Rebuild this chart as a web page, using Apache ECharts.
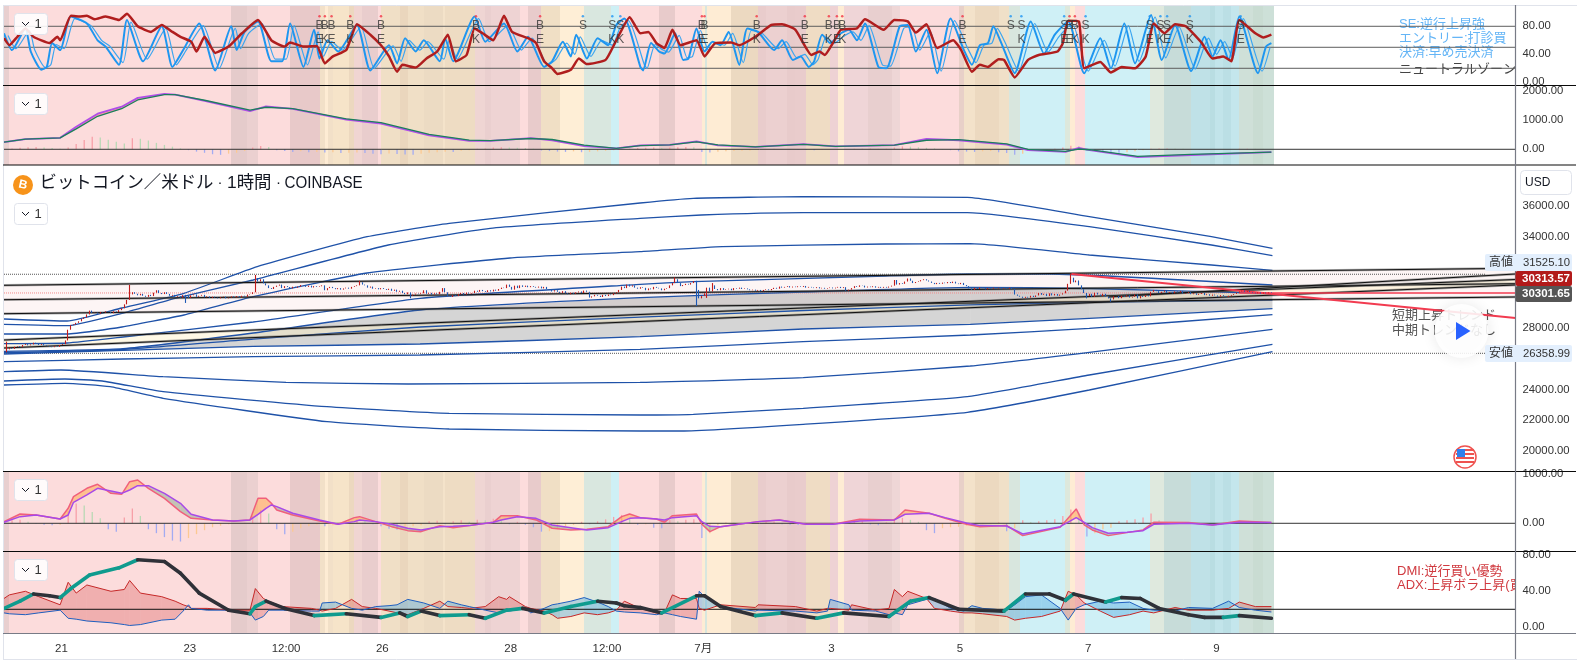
<!DOCTYPE html>
<html><head><meta charset="utf-8">
<style>html,body{margin:0;padding:0;background:#fff}#c{width:1577px;height:661px}</style>
<script src="https://cdn.jsdelivr.net/npm/echarts@6/dist/echarts.min.js"></script>
</head><body><div id="c"></div>
<script>
// ---------- time axis ----------
const timeTickHours=[21.5,69.5,105.5,141.5,189.5,225.5,261.5,309.5,357.5,405.5,453.5];
const timeTickLabels=['21','23','12:00','26','28','12:00','7月','3','5','7','9'];
const xMax=565.3;

// ---------- background state bands: [from hour, to hour, colour] ----------
const bands=[[0,2,'#e8cfcf'],[2,85,'#fcdcdc'],[85,91,'#e5cbcb'],[91,95,'#ebd0d0'],[95,107,'#fcdcdc'],[107,118,'#e8c9c9'],[118,120,'#f2e0c8'],[120,121,'#feecd4'],[121,123,'#f2e0c8'],[123,129,'#f6e4c9'],[129,131,'#ecd8bf'],[131,134,'#f0d5d2'],[134,140,'#e9cdcd'],[140,141,'#fcdcdc'],[141,148,'#f0dfc6'],[148,151,'#ead6bd'],[151,157,'#f0dfc6'],[157,164,'#ecdbc3'],[164,165,'#f4e3ca'],[165,176,'#eedcc3'],[176,180,'#efd5d3'],[180,182,'#eacfcf'],[182,193,'#eed3d3'],[193,196,'#fcdcdc'],[196,201,'#e8cbcb'],[201,208,'#f0dfc5'],[208,217,'#feeed6'],[217,227,'#d9e7df'],[227,230,'#cef0f5'],[230,245,'#fcdcdc'],[245,251,'#e8cbcb'],[251,261,'#fcdcdc'],[261,262,'#feecd4'],[262,263,'#d8e6de'],[263,272,'#feecd4'],[272,282,'#ecd9c1'],[282,285,'#e9cccc'],[285,293,'#ecd0d0'],[293,296,'#e8cbcb'],[296,300,'#e9cccc'],[300,309,'#efdcc4'],[309,312,'#eed2d4'],[312,314,'#feecd4'],[314,323,'#efd5d7'],[323,332,'#e8cfcf'],[332,335,'#eed6d6'],[335,357,'#fcdcdc'],[357,359,'#e8d0c8'],[359,363,'#f3e2ca'],[363,372,'#ecd9c0'],[372,376,'#f0e0c8'],[376,380,'#d8e6de'],[380,397,'#cff0f6'],[397,398.5,'#dde8dc'],[398.5,400.4,'#feecd4'],[400.4,404.4,'#fcdcdc'],[404.4,428.5,'#cff0f6'],[428.5,434,'#dfe9de'],[434,444,'#c7dcd9'],[444,451,'#bfe1e7'],[451,453,'#b9dde2'],[453,456,'#c2e4ea'],[456,459,'#bbdfe5'],[459,462,'#c4e6ec'],[462,467,'#cfe0d8'],[467,471,'#c9dcd2'],[471,475,'#cde0d8']];

// ---------- stochastic panel ----------
const stochFast=[[0,70],[3,46],[8,77],[10,44],[14,18],[16,22],[18,56],[21,46],[25,94],[31,84],[35,60],[38,51],[43,25],[46,89],[52,30],[59,80],[63,22],[67,46],[73,84],[79,17],[85,80],[87,46],[90,72],[95,87],[100,30],[104,30],[107,84],[112,22],[116,75],[118,34],[121,60],[125,44],[132,82],[137,17],[144,53],[147,27],[150,63],[154,44],[157,60],[163,30],[165,63],[168,30],[176,94],[180,58],[187,84],[192,44],[196,65],[202,22],[205,30],[209,58],[212,37],[214,68],[218,34],[222,63],[226,53],[229,82],[232,91],[238,22],[239,17],[242,56],[245,44],[247,41],[251,70],[254,32],[256,34],[259,77],[262,44],[265,58],[268,53],[271,72],[275,25],[278,77],[282,72],[288,46],[291,60],[295,32],[298,37],[301,22],[303,30],[306,68],[309,56],[313,70],[316,75],[319,60],[322,84],[327,22],[330,20],[335,80],[338,82],[341,44],[345,75],[349,13],[354,91],[359,46],[362,25],[365,53],[368,56],[370,80],[373,56],[378,13],[384,87],[389,41],[393,68],[398,87],[404,13],[410,63],[414,20],[419,84],[423,27],[429,96],[433,32],[438,82],[444,16],[449,65],[452,37],[455,60],[458,32],[462,94],[469,13],[472,51],[474,56]];
const stochFastLag=[[1.5,67],[4.5,48],[9.5,74],[11.5,46],[15.5,21],[17.5,25],[19.5,54],[22.5,48],[26.5,91],[32.5,81],[36.5,60],[39.5,52],[44.5,28],[47.5,86],[53.5,33],[60.5,77],[64.5,25],[68.5,48],[74.5,81],[80.5,20],[86.5,77],[88.5,48],[91.5,70],[96.5,84],[101.5,33],[105.5,33],[108.5,81],[113.5,25],[117.5,72],[119.5,37],[122.5,58],[126.5,46],[133.5,79],[138.5,20],[145.5,52],[148.5,30],[151.5,60],[155.5,46],[158.5,58],[164.5,33],[166.5,60],[169.5,33],[177.5,91],[181.5,58],[188.5,81],[193.5,46],[197.5,63],[203.5,25],[206.5,33],[210.5,56],[213.5,40],[215.5,65],[219.5,37],[223.5,60],[227.5,53],[230.5,79],[233.5,88],[239.5,25],[240.5,20],[243.5,54],[246.5,46],[248.5,43],[252.5,67],[255.5,35],[257.5,37],[260.5,74],[263.5,46],[266.5,56],[269.5,53],[272.5,70],[276.5,28],[279.5,74],[283.5,70],[289.5,48],[292.5,58],[296.5,35],[299.5,40],[302.5,25],[304.5,33],[307.5,65],[310.5,56],[314.5,67],[317.5,72],[320.5,60],[323.5,81],[328.5,25],[331.5,23],[336.5,77],[339.5,79],[342.5,46],[346.5,72],[350.5,16],[355.5,88],[360.5,48],[363.5,28],[366.5,53],[369.5,56],[371.5,77],[374.5,56],[379.5,16],[385.5,84],[390.5,43],[394.5,65],[399.5,84],[405.5,16],[411.5,60],[415.5,23],[420.5,81],[424.5,30],[430.5,93],[434.5,35],[439.5,79],[445.5,19],[450.5,63],[453.5,40],[456.5,58],[459.5,35],[463.5,91],[470.5,16],[473.5,50]];
const stochSlow=[[0,63],[2,53],[5,65],[8,77],[11,65],[17,56],[20,65],[21,60],[25,95],[28,94],[31,95],[34,90],[38,94],[43,89],[46,98],[50,80],[55,72],[59,82],[63,72],[66,65],[70,58],[72,44],[75,65],[79,42],[84,51],[89,70],[95,89],[100,60],[105,51],[107,57],[112,51],[117,52],[120,27],[123,37],[128,46],[132,83],[137,68],[141,53],[144,37],[147,15],[149,25],[154,21],[158,34],[162,44],[166,68],[169,30],[173,39],[176,77],[179,70],[183,60],[187,95],[190,72],[196,63],[199,56],[202,30],[205,20],[207,12],[212,18],[215,34],[218,26],[225,32],[229,60],[234,93],[238,70],[241,72],[244,56],[247,49],[250,75],[253,53],[259,60],[262,37],[266,56],[272,57],[275,53],[281,65],[287,82],[291,83],[296,75],[302,39],[305,44],[307,39],[310,56],[313,75],[319,77],[322,90],[329,75],[333,89],[338,87],[341,71],[345,83],[349,49],[355,60],[358,46],[362,15],[365,25],[368,22],[372,33],[374,32],[378,7],[383,32],[387,39],[394,44],[396,56],[398,88],[402,87],[404,20],[410,29],[414,14],[418,22],[423,20],[427,37],[430,84],[434,70],[438,83],[442,80],[448,56],[452,34],[456,37],[459,30],[462,89],[468,70],[471,64],[474,68]];
const buyHours=[118,120,122.5,129.5,141,176.5,200.5,261,262,281.5,299.5,308.5,311.5,313.5,358.5,398.5,400.5];
const buyKinds=['E','K','E','K','E','K','E','E','E','K','E','K','E','K','E','E','K'];
const sellHours=[216.5,227.5,230.5,376.5,380.5,396.5,404.5,428.5,432.5,435,443.5,462.5];
const sellKinds=['','K','K','','K','E','K','E','K','E','K','E'];

// ---------- long MACD panel ----------
const macdLongHours=[0,8,21,27,35,44,50,60,64,75,92,98,108,128,141,159,174,182,197,205,217,229,238,249,259,267,281,299,311,333,345,357,375,383,397,402,406,424,444,474];
const macdLongUpper=[245,348,393,770,1220,1460,1760,1900,1870,1660,1310,1470,1385,1020,880,480,290,290,380,310,105,28,131,154,268,135,86,177,97,143,360,310,160,-30,-90,50,-30,-270,-200,-97];
const macdLongLower=[245,348,393,700,1130,1390,1690,1870,1870,1680,1340,1440,1395,1045,910,510,315,300,370,335,140,28,125,154,255,150,86,170,97,143,310,330,185,0,-70,10,-15,-240,-177,-97];
const macdLongHist=[10,30,50,70,80,60,40,20,60,180,320,430,400,330,260,200,380,360,300,220,150,90,30,-30,-80,-120,-170,-190,-150,-120,-60,60,110,80,-30,-60,-90,-70,-100,-90,-110,-100,-130,-120,-110,-130,-150,-170,-140,-160,-180,-190,-150,-120,-100,-80,-90,-50,-30,20,30,60,70,60,50,40,20,-40,-60,-80,-90,-70,-100,-90,-70,-50,-30,-10,20,40,50,60,40,60,70,80,70,-90,-110,-80,-70,-60,-50,-40,-10,10,15,10,-10,-15,-25,-35,-20,-10,-5,10,15,20,25,15,20,60,100,90,70,50,30,10,-30,-70,-80,-90,-70,-60,-100,-130,-190,-150,-60,-30,-10,20,60,120,110,-40,-70,-90,-110,-120,-100,-70,-30,20,25,30,25,20,10,-5,-5,-8,-5,5,15,20,18,15];

// ---------- price panel ----------
const closes=[26500,26620,26700,26650,26790,26830,26780,26900,26960,26880,
26940,27050,26980,26900,26960,26880,26830,26790,26760,26820,
26780,26900,26960,27200,27900,28200,28250,28350,28450,28600,
28700,28900,29150,29000,29020,28950,29050,29020,29100,29050,
28980,29100,29060,29180,29300,29560,29850,30210,30350,30250,
30150,30240,30120,30050,30180,30100,30320,30480,30300,30230,
30350,30240,30120,30180,30050,30100,30000,30160,30120,29980,
30150,30210,30050,30120,30180,30020,30080,29980,30060,30000,
29950,30030,30060,29950,30000,30080,30020,30100,30020,30120,
30060,30200,30230,30350,31280,31050,31200,30930,30800,30620,
30560,30700,30780,30850,30620,30750,30690,30600,30710,30640,
30720,30820,30800,30700,30780,30660,30750,30700,30740,30800,
30480,30620,30700,30620,30550,30620,30520,30600,30650,30580,
30700,30750,30800,31000,30850,30800,30650,30720,30580,30620,
30540,30620,30560,30500,30580,30440,30520,30380,30450,30300,
30220,30340,30120,30200,30260,30230,30280,30480,30250,30310,
30200,30280,30220,30380,30620,30350,30100,30040,30160,30100,
30220,30300,30200,30330,30260,30300,30450,30380,30500,30420,
30360,30480,30400,30520,30450,30560,30650,30620,30850,30700,
30520,30780,30620,30800,30700,30780,30680,30750,30700,30650,
30720,30600,30700,30560,30520,30400,30480,30380,30300,30420,
30280,30220,30320,30250,30340,30400,30300,30460,30380,30000,
30080,30180,30120,30040,30180,30100,30200,30160,30280,30350,
30500,30720,30620,30850,30720,30800,30650,30580,30680,30640,
30480,30600,30540,30700,30640,30600,30480,30580,30620,30800,
30950,31200,30950,30750,30820,30900,30850,30950,31080,30500,
29950,30100,30280,30650,30400,30800,30560,30480,30620,30500,
30540,30580,30480,30620,30580,30650,30560,30600,30540,30480,
30520,30450,30500,30420,30500,30540,30480,30560,30640,30580,
30720,30650,30700,30750,30660,30720,30680,30740,30700,30760,
30650,30700,30660,30620,30680,30600,30640,30580,30620,30660,
30600,30650,30700,30620,30680,30450,30520,30620,30750,30700,
30800,30780,30660,30720,30680,30740,30650,30700,30640,30700,
30650,30720,30780,31150,30850,30950,30900,31050,31250,31100,
30950,31020,31060,31140,31200,31120,31050,30960,30880,30960,
30900,30980,30940,31020,30950,31040,30920,30880,30960,30820,
30750,30600,30500,30640,30560,30660,30620,30540,30620,30580,
30650,30600,30640,30580,30620,30580,30640,30560,30200,30120,
30060,29980,30050,30000,30120,30040,30140,30300,30180,30250,
30100,30280,30140,30240,30120,30200,30280,30450,30900,31300,
31000,31120,30800,30550,30300,30100,30250,30050,30320,30200,
30100,30250,30060,29950,29880,30080,30100,29960,30120,30060,
30150,30000,30050,30200,29950,30100,30040,30160,30080,30380,
30500,30420,30300,30380,30460,30300,30360,30280,30400,30340,
30440,30260,30300,30360,30220,30280,30180,30240,30300,30160,
30220,30120,30200,30140,30060,30160,30100,30040,30120,30180,
30240,30320,30400,30460,30380,30440,30360,30320,30280,30340,
30260,30330,30280,30340,30301.65];
// long wicks: hour -> [low, high]
const wicks={1:[26430,27120],47:[29850,30830],68:[29650,30180],94:[30350,31480],133:[30800,31100],152:[29960,30340],251:[30950,31320],259:[29450,31100],263:[29980,30650],265:[30400,30950],399:[30900,31560],405:[29950,30300],414:[29730,29950]};

const envHours3=[0,23.6,44.1,67.3,94.7,135.8,166.5,237.9,257.8,298.9,360.3,405.9,451.6,474.4];
const envUpper5=[28601,28470,29320,30281,32019,33980,34856,36183,36490,36594,36555,35287,33980,33222];
const envUpper4Hours=[0,23.6,44.1,64,93.2,143.7,181.8,237.9,260.8,298.9,360.3,405.9,451.6,474.4];
const envUpper4=[28254,28163,28973,29954,31150,33437,34529,35183,35398,35549,35549,34633,33437,32738];
const envUpper3Hours=[0,23.6,44.1,67.3,93.2,135.8,189.3,237.9,268.6,329.6,361.4,405.9,451.6,474.4];
const envUpper3=[27620,27620,28078,28862,30058,31607,32588,33000,33326,33503,33522,32784,32130,31784];
const envUpper2Hours=[0,23.6,44.5,93.2,155.6,237.9,257.8,329.6,360.3,390.6,474.4];
const envUpper2=[26986,27032,27424,28405,29954,30869,31039,31411,31542,31542,30823];
const envInnerHours=[0,44.5,93.2,155.6,237.9,298.9,361.4,405.9,474.4];
const envUpper1=[26483,26660,27686,29189,29993,30366,30673,30594,30254];
const envCenter=[26398,26607,27281,28078,28718,29156,29529,29690,29843];
const envLower1=[26313,26555,26810,26967,27444,27947,28254,28647,29274];
const envLower2=[25810,25986,26137,26248,26620,27117,27555,27993,28882];
const envLower3Hours=[0,21.3,59.5,105.5,151.1,237.9,298.9,361.4,405.9,474.4];
const envLower3=[25156,25267,24830,24464,24352,24464,24764,25529,26424,27928];
const envLower4Hours=[0,22.8,36.7,59.5,120.8,166.5,237.9,257.8,298.9,360.3,405.9,474.4];
const envLower4=[24549,24679,24549,23849,22869,22437,22326,22372,22764,23522,24941,26947];
const envLower5Hours=[0,22.8,39.7,59.5,120.8,166.5,237.9,253.3,298.9,360.3,405.9,474.4];
const envLower5=[24287,24398,24176,23418,21888,21411,21281,21281,21718,22503,23960,26464];

const channelHours=[0,565.3];
const channel1=[30803,31915];
const channel2=[29862,30908];
const channel3=[28947,30039];
const channel4=[27228,31183];
const channel5=[26705,30823];
const shortTrendHours=[413,565.3];
const shortTrend=[30039,31542];
const redTrendHours=[399.2,565.3];
const redTrend=[31542,28666];
const highPrice=31525.10,lowPrice=26358.99,closePrice=30301.65;

// ---------- short MACD panel ----------
const macdHours=[0,6,12,21,24,26,31,35,40,44,47,50,54,60,66,70,78,86,92,95,98,100,102,108,118,125,131,133,139,145,151,156,163,168,174,183,186,192,199,205,212,218,226,231,234,238,244,247,250,259,261,264,268,282,290,300,310,320,333,337,346,352,360,365,375,381,395,401,404,407,413,420,426,430,443,452,462,474];
const macdFast=[34,189,169,88,304,541,710,791,608,588,845,879,710,507,237,101,68,47,68,507,507,406,270,169,47,-20,115,135,34,-68,-149,-169,-47,-88,-47,20,155,155,68,-101,-135,-122,-68,135,189,115,88,20,155,189,-20,-169,-68,34,68,-20,-20,81,68,270,203,101,-20,-68,-47,-250,-81,291,-34,-135,-250,-189,-135,20,14,-34,47,14];
const macdSlow=[20,135,169,88,169,426,575,710,656,608,676,764,764,608,406,183,68,47,68,183,304,372,338,203,68,-20,34,68,34,-20,-101,-135,-68,-61,-47,20,68,135,101,-34,-88,-135,-88,34,101,115,88,68,115,155,34,-61,-68,34,68,-20,-20,47,68,183,203,115,7,-47,-54,-216,-68,115,20,-88,-203,-183,-149,-20,0,-34,20,14];
const macdHist=[20,60,70,30,-10,-30,-40,-30,250,400,360,230,100,-120,-170,120,300,150,-120,-200,-280,-350,-370,-300,-220,-140,-80,-50,-20,-10,10,150,270,200,-120,-220,-170,-100,-60,-30,-60,-40,-20,40,90,60,-20,-60,-110,-130,-100,-60,-40,40,50,-20,40,60,30,70,60,90,60,-20,30,-30,-80,-170,-160,-120,-60,-30,30,-20,40,80,130,170,100,-30,-20,-90,-100,60,40,70,80,-300,-200,-40,15,10,10,15,20,30,30,-20,-30,-35,-25,-20,-5,5,-15,20,40,50,-25,-40,20,100,110,70,30,-140,-200,-100,-80,-70,-50,-40,-20,-15,20,-160,-100,60,20,40,60,80,150,280,200,-270,-200,-120,-90,40,60,80,120,200,60,20,15,10,-10,-15,-10,-5,-5,15,20,10,5,5];

// ---------- DMI panel ----------
const dmiHours=[0,2,8,13,21,24,27,31,40,45,47,51,59,64,67,69,70,76,84,92,94,97,99,104,115,118,119,124,130,134,139,144,147,151,157,163,166,171,174,180,185,188,189,195,197,202,205,207,212,217,222,226,229,232,238,244,247,250,253,259,260,262,268,281,282,296,304,308,309,316,317,326,331,333,336,338,345,348,354,359,362,366,375,378,382,388,395,398,401,404,410,415,421,426,430,438,443,452,458,462,468,474];
const diPlus=[32,36,40,34,25,50,38,47,40,42,52,38,34,29,25,23,21,21,19,19,43,32,29,23,21,19,18,21,31,23,21,18,16,14,21,29,23,22,21,23,34,31,34,23,21,18,14,10,12,16,14,16,19,29,21,16,16,36,32,32,21,19,25,22,25,23,18,21,21,19,25,19,21,42,34,40,32,21,18,16,16,15,12,8,10,12,18,40,36,27,18,11,14,18,16,22,19,19,21,28,23,23];
const diMinus=[16,15,14,16,19,10,9,7,5,3,2,3,8,9,18,25,21,19,19,16,8,12,19,19,18,18,27,28,21,19,23,24,25,31,27,21,29,25,23,19,16,18,18,21,16,21,25,26,29,33,28,23,18,17,16,14,16,14,12,9,40,34,23,18,19,18,16,18,31,25,19,18,14,16,14,25,31,32,21,18,24,21,19,25,34,36,21,8,21,25,29,27,28,21,19,18,22,21,29,22,19,17];
const adx=[[0,21],[6,29],[11,37],[17,35],[21,33],[25,43],[32,58],[43,66],[50,75],[60,73],[66,60],[73,38],[84,19],[92,15],[94,23],[98,29],[105,21],[116,13],[128,15],[141,11],[148,16],[151,12],[156,18],[163,13],[174,14],[180,10],[188,19],[194,21],[202,16],[212,23],[222,29],[229,27],[232,24],[238,22],[246,16],[259,35],[262,35],[268,23],[281,13],[291,16],[304,10],[314,16],[331,12],[339,29],[346,33],[357,20],[374,18],[382,37],[391,37],[397,30],[400,37],[412,28],[418,33],[425,32],[432,21],[443,14],[449,11],[456,11],[462,13],[474,10]];

// ---------- axis ticks ----------
const ticksStoch=[0,40,80];
const ticksMacdLong=[0,1000,2000];
const ticksPrice=[20000,22000,24000,28000,34000,36000];
const ticksMacd=[0,1000];
const ticksDmi=[0,40,80];

// ---------- helpers ----------
const FONT='"Liberation Sans","Noto Sans CJK JP",sans-serif';
const zip=(xs,ys)=>xs.map((x,i)=>[x,ys[i]]);
const grids=[{top:5.5,bottom:85.5},{top:85.5,bottom:165},{top:165,bottom:471.3},{top:471.3,bottom:551.3},{top:551.3,bottom:633.3}];
const series=[];
function line(g,data,color,width,opt){series.push(Object.assign({type:'line',xAxisIndex:g,yAxisIndex:g,data,symbol:'none',silent:true,z:3,
  lineStyle:{color,width,type:(opt&&opt.dash)||'solid',opacity:(opt&&opt.opacity)||1}},opt&&opt.smooth?{smooth:opt.smooth}:{}));}
function hline(g,v,color,width,dash,h0,h1){line(g,[[h0===undefined?0:h0,v],[h1===undefined?xMax:h1,v]],color,width,{dash});}
function fillBetween(g,hs,a,b,colorA,colorB,z){
  const rows=hs.map((h,i)=>[h,a[i],b[i]]);
  series.push({type:'custom',xAxisIndex:g,yAxisIndex:g,silent:true,z:z===undefined?1:z,clip:true,encode:{x:0,y:[1,2]},data:rows,
    renderItem(p,api){
      const i=p.dataIndex; if(i>=rows.length-1) return null;
      const [h0,a0,b0]=rows[i],[h1,a1,b1]=rows[i+1];
      const poly=(pts,c)=>({type:'polygon',shape:{points:pts.map(q=>api.coord(q))},style:{fill:c},silent:true});
      const d0=a0-b0,d1=a1-b1;
      if(d0*d1<0){const t=d0/(d0-d1),hm=h0+t*(h1-h0),vm=a0+t*(a1-a0);
        return {type:'group',children:[poly([[h0,a0],[hm,vm],[h0,b0]],d0>0?colorA:colorB),poly([[hm,vm],[h1,a1],[h1,b1]],d1>0?colorA:colorB)]};}
      return poly([[h0,a0],[h1,a1],[h1,b1],[h0,b0]],(d0+d1)>=0?colorA:colorB);
    }});
}
function bgBands(g){
  series.push({type:'custom',xAxisIndex:g,yAxisIndex:g,silent:true,z:0,clip:true,encode:{x:[0,1]},data:bands,
    renderItem(p,api){
      const b=bands[p.dataIndex],x0=Math.round(api.coord([b[0],0])[0]),x1=Math.round(api.coord([b[1],0])[0]),cs=p.coordSys;
      return {type:'rect',shape:{x:x0,y:cs.y,width:x1-x0,height:cs.height},style:{fill:b[2]},silent:true};
    }});
}
function hist(g,vals){
  series.push({type:'bar',xAxisIndex:g,yAxisIndex:g,silent:true,z:1,barWidth:1.3,data:vals.map((v,i)=>[i*3,v]),
    itemStyle:{color(p){const v=p.value[1],prev=p.dataIndex?vals[p.dataIndex-1]:0;
      return v>=0?(v>=prev?'#f7a0a8':'#b9d9b5'):(v<prev?'#a3abf2':'#fcc992');}}});
}
// bands
[0,1,3,4].forEach(bgBands);

// panel 0
[80,50,20].forEach(v=>hline(0,v,'#5d5d5d',1));
line(0,stochFastLag,'#3aa5f0',1.2,{smooth:.2});
line(0,stochFast,'#1e96f0',2,{smooth:.2});
line(0,stochSlow,'#b01e1e',2.5,{smooth:.15});
series.push({type:'scatter',xAxisIndex:0,yAxisIndex:0,silent:true,z:4,symbolSize:2.5,itemStyle:{color:'#f23645'},data:buyHours.map(h=>[h,94.5])});
series.push({type:'scatter',xAxisIndex:0,yAxisIndex:0,silent:true,z:4,symbolSize:2.5,itemStyle:{color:'#2196f3'},data:sellHours.map(h=>[h,94.5])});
const letterStyle=t=>({show:true,position:'inside',formatter:t,fontSize:12,fontFamily:FONT,color:'#333'});
const letters=[];
buyHours.forEach((h,i)=>{letters.push({value:[h,81],label:letterStyle('B')});letters.push({value:[h,61.5],label:letterStyle(buyKinds[i])});});
sellHours.forEach((h,i)=>{letters.push({value:[h,81],label:letterStyle('S')}); if(sellKinds[i]) letters.push({value:[h,61.5],label:letterStyle(sellKinds[i])});});
series.push({type:'scatter',xAxisIndex:0,yAxisIndex:0,silent:true,z:5,symbolSize:1,itemStyle:{color:'rgba(0,0,0,0)'},data:letters});

// panel 1
hline(1,0,'#333',1);
hist(1,macdLongHist);
fillBetween(1,macdLongHours,macdLongUpper,macdLongLower,'rgba(255,110,110,.55)','rgba(120,180,120,.4)',2);
line(1,zip(macdLongHours,macdLongUpper),'#b04fe8',1.8);
line(1,zip(macdLongHours,macdLongLower),'#1b7f5c',1.3);

// panel 2: price
fillBetween(2,channelHours,channel1,channel3,'#fdf5f5','#fdf5f5',0);
fillBetween(2,envInnerHours,envUpper1,envLower1,'rgba(110,110,110,.29)','rgba(110,110,110,.29)',1);
fillBetween(2,channelHours,channel4,channel5,'rgba(255,238,190,.38)','rgba(255,238,190,.38)',1);
hline(2,highPrice,'#555',1,'dotted',0,554);
hline(2,lowPrice,'#555',1,'dotted',0,554);
hline(2,closePrice,'#f08a8a',1,'dotted',0,462);
const blue='#1f52a8';
[[envHours3,envUpper5],[envUpper4Hours,envUpper4],[envUpper3Hours,envUpper3],[envUpper2Hours,envUpper2],[envInnerHours,envUpper1],[envInnerHours,envCenter],[envInnerHours,envLower1],[envInnerHours,envLower2],[envLower3Hours,envLower3],[envLower4Hours,envLower4],[envLower5Hours,envLower5]].forEach(e=>line(2,zip(e[0],e[1]),blue,1.3,{smooth:.15}));
[channel1,channel2,channel3,channel4,channel5].forEach(c=>{line(2,zip(channelHours,c),'rgba(90,90,90,.5)',2.4);line(2,zip(channelHours,c),'#111',1);});
line(2,zip(shortTrendHours,shortTrend),'rgba(90,90,90,.5)',2.4);
line(2,zip(shortTrendHours,shortTrend),'#111',1);
line(2,zip(redTrendHours,redTrend),'#f23b50',2);
hline(2,closePrice,'#f23b50',1.6,'solid',462,xMax);
series.push({type:'candlestick',xAxisIndex:2,yAxisIndex:2,silent:true,z:4,barWidth:1.2,
  itemStyle:{color:'#c21b1b',color0:'#1d59b5',borderColor:'#c21b1b',borderColor0:'#1d59b5',borderWidth:1.1},
  data:closes.map((c,i)=>{const o=i?closes[i-1]:c-60,w=wicks[i];
    return [i,o,c,w?w[0]:Math.min(o,c),w?w[1]:Math.max(o,c)];})});

// panel 3
hline(3,0,'#333',1);
hist(3,macdHist);
fillBetween(3,macdHours,macdFast,macdSlow,'rgba(255,170,80,.55)','rgba(90,150,110,.35)',2);
line(3,zip(macdHours,macdFast),'#f0607c',1.5);
line(3,zip(macdHours,macdSlow),'#a849e8',1.5);

// panel 4
hline(4,20,'#111',1);
fillBetween(4,dmiHours,diPlus,diMinus,'rgba(215,80,80,.32)','rgba(80,170,225,.42)',1);
line(4,zip(dmiHours,diPlus),'#c62828',1);
line(4,zip(dmiHours,diMinus),'#1f5fbf',1);
series.push({type:'custom',xAxisIndex:4,yAxisIndex:4,silent:true,z:4,clip:true,encode:{x:0,y:1},data:adx,
  renderItem(p,api){const i=p.dataIndex; if(i>=adx.length-1) return null;
    const up=adx[i+1][1]>adx[i][1];
    const a=api.coord(adx[i]),b=api.coord(adx[i+1]);
    return {type:'line',shape:{x1:a[0],y1:a[1],x2:b[0],y2:b[1]},style:{stroke:up?'#0f9b8e':'#2f3138',lineWidth:3.6,lineCap:'round'},silent:true};}});

// ---------- axes ----------
const xAxes=grids.map((g,i)=>({type:'value',gridIndex:i,min:0,max:xMax,splitLine:{show:false},axisTick:{show:false},
  axisLine:{show:false},
  axisLabel:i===4?{show:true,customValues:timeTickHours,hideOverlap:false,color:'#333',fontSize:11.5,fontFamily:FONT,margin:10,
    formatter:v=>timeTickLabels[timeTickHours.indexOf(v)]||''}:{show:false}}));
function yAxis(i,min,max,ticks){return {type:'value',gridIndex:i,position:'right',z:10,min,max,splitLine:{show:false},axisTick:{show:false},axisLine:{show:false},scale:true,
  axisLabel:{show:true,customValues:ticks,hideOverlap:false,color:'#333',fontSize:11.3,fontFamily:FONT,margin:7,align:'left',formatter:v=>Number(v).toFixed(2)}};}
const yAxes=[yAxis(0,-4.57,109.7,ticksStoch),yAxis(1,-538,2185,ticksMacdLong),yAxis(2,18646.6,38666,ticksPrice),yAxis(3,-568,1055,ticksMacd),yAxis(4,-6.67,84.4,ticksDmi)];

// ---------- overlay drawing ----------
const G=[];
const txt=(x,y,text,color,size,extra)=>G.push(Object.assign({type:'text',x,y,z:(extra&&extra.z)||30,silent:true,style:Object.assign({text,fill:color,font:`${(extra&&extra.weight)||'normal'} ${size}px ${FONT}`,textVerticalAlign:'middle'},extra&&extra.style||{})},extra&&extra.el||{}));
const rule=(x1,y1,x2,y2,c,w,z)=>G.push({type:'line',z:z||20,silent:true,shape:{x1,y1,x2,y2},style:{stroke:c,lineWidth:w}});
rule(3,5.5,1577,5.5,'#e0e3eb',1);
rule(3.5,5,3.5,659,'#e0e3eb',1);
rule(3,659.5,1577,659.5,'#e0e3eb',1);
[85.5,165,471.5,551.5].forEach(y=>rule(3,y,1576,y,'#0a0a0a',1.2));
rule(3,633.5,1576,633.5,'#787b86',1.2);
rule(1515.5,5,1515.5,659,'#787b86',1.2);
// indicator buttons
[13,93,203,479,559].forEach(y=>{
  G.push({type:'rect',z:25,silent:true,shape:{x:14.5,y:y+.5,width:33,height:21,r:3},style:{fill:'rgba(255,255,255,.88)',stroke:'#e0e3eb',lineWidth:1}});
  G.push({type:'polyline',z:26,silent:true,shape:{points:[[22,y+9],[25.5,y+12.5],[29,y+9]]},style:{stroke:'#131722',lineWidth:1,fill:'none'}});
  txt(34.5,y+11,'1','#333',13,{z:26});
});
// logo and title
G.push({type:'circle',z:25,silent:true,shape:{cx:23,cy:185,r:10},style:{fill:'#f7931a'}});
G.push({type:'text',z:26,silent:true,x:23,y:185,rotation:-.22,style:{text:'B',fill:'#fff',font:`bold 12px ${FONT}`,textAlign:'center',textVerticalAlign:'middle'}});
txt(39.5,183,'ビットコイン／米ドル','#131722',17.4);
txt(217.5,183,'·','#131722',15);
txt(227,183,'1時間','#131722',17.4);
txt(276,183,'·','#131722',15);
txt(284.5,183,'COINBASE','#131722',17.4,{el:{scaleX:.87}});
// panel texts (under the series lines); white masks keep them inside the plot
const under={z:1};
txt(1399,24,'SE:逆行上昇強','#64b5f6',13,under);
txt(1399,38,'エントリー:打診買','#64b5f6',13,under);
txt(1399,52,'決済:早め売決済','#64b5f6',13,under);
txt(1399,69,'ニュートラルゾーン','#444',13,under);
txt(1392,315,'短期上昇トレンド','#555',13,under);
txt(1392,330,'中期トレンドなし','#555',13,under);
txt(1397,571,'DMI:逆行買い優勢','#d0393f',13,under);
txt(1397,585,'ADX:上昇ボラ上昇(買','#d0393f',13,under);
G.push({type:'rect',z:2,silent:true,shape:{x:1516,y:60,width:58,height:20},style:{fill:'#fff'}});
G.push({type:'rect',z:2,silent:true,shape:{x:1516,y:575,width:58,height:20},style:{fill:'#fff'}});
// USD
G.push({type:'rect',z:25,silent:true,shape:{x:1520.5,y:170.5,width:51,height:24,r:4},style:{fill:'#fff',stroke:'#e0e3eb',lineWidth:1}});
txt(1525,183,'USD','#131722',12);
// price tags
const tag=(x,y,w,h,c)=>G.push({type:'rect',z:28,silent:true,shape:{x,y,width:w,height:h,r:2},style:{fill:c}});
tag(1485,254,87,17,'#e3effd'); txt(1489,262.5,'高値','#333',12,{z:29}); txt(1523,262.5,'31525.10','#333',11.3,{z:29});
tag(1485,345,87,17,'#e3effd'); txt(1489,353.5,'安値','#333',12,{z:29}); txt(1523,353.5,'26358.99','#333',11.3,{z:29});
tag(1515.5,271,56.5,15,'#b21a1a'); txt(1522,278.5,'30313.57','#fff',11.5,{z:29,weight:'bold'});
tag(1515.5,286,56.5,16,'#565656'); txt(1522,294,'30301.65','#fff',11.5,{z:29,weight:'bold'});
// play button
G.push({type:'circle',z:24,silent:true,shape:{cx:1461.5,cy:331,r:27},style:{fill:'rgba(255,255,255,.88)',shadowBlur:14,shadowColor:'rgba(0,0,0,.1)'}});
G.push({type:'polygon',z:25,silent:true,shape:{points:[[1456,322],[1470.5,331],[1456,340]]},style:{fill:'#2962ff'}});
// flag
G.push({type:'circle',z:25,silent:true,shape:{cx:1465,cy:457,r:11},style:{fill:'#fff',stroke:'#ef5350',lineWidth:1.5}});
[[1456,449,18,2],[1456,453,18,2],[1456,457,18,2],[1456,461,18,2]].forEach(s=>G.push({type:'rect',z:26,silent:true,shape:{x:s[0],y:s[1],width:s[2],height:s[3]},style:{fill:'#ef5350'}}));
G.push({type:'rect',z:27,silent:true,shape:{x:1457,y:449,width:8,height:8},style:{fill:'#2f80ed'}});

const chart=echarts.init(document.getElementById('c'),null,{renderer:'canvas',width:1577,height:661});
chart.setOption({animation:false,backgroundColor:'#fff',textStyle:{fontFamily:FONT},
  grid:grids.map(g=>({left:4,width:1511.5,top:g.top,height:g.bottom-g.top,containLabel:false,show:false})),
  xAxis:xAxes,yAxis:yAxes,series,graphic:{elements:G}});
</script></body></html>
